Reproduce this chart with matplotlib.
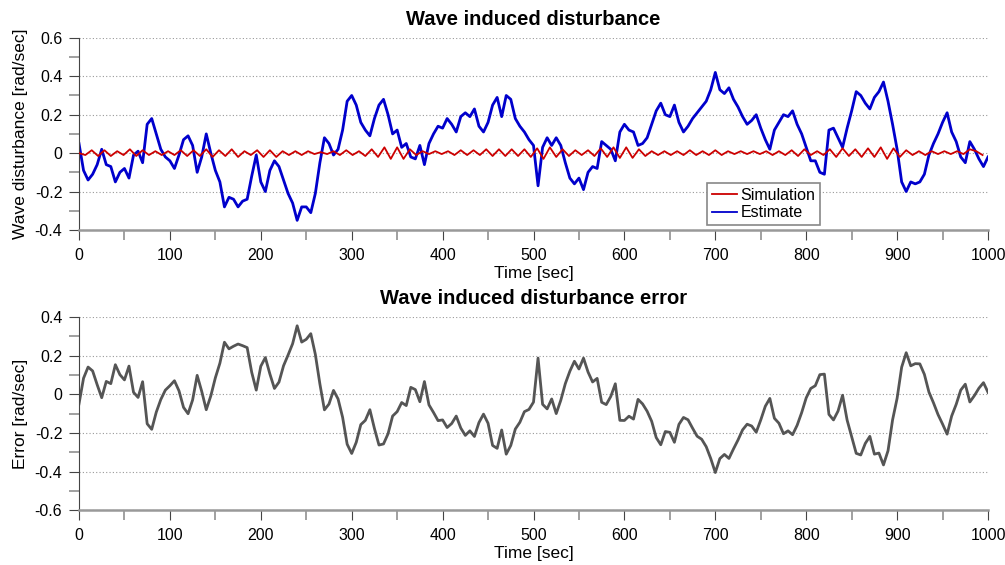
import matplotlib
matplotlib.use("Agg")
import matplotlib.pyplot as plt
import numpy as np
from matplotlib.ticker import MultipleLocator

plt.rcParams["font.family"] = ["Liberation Sans", "DejaVu Sans"]

# Estimate of the wave induced disturbance, read every 5 sec
est_t = np.arange(0, 1001, 5)
estimate = [
    0.05, -0.09, -0.14, -0.11, -0.06, 0.02, -0.06, -0.07, -0.15, -0.10,
    -0.08, -0.13, -0.01, 0.01, -0.05, 0.15, 0.18, 0.10, 0.02, -0.02,
    -0.04, -0.08, -0.01, 0.07, 0.09, 0.04, -0.10, -0.02, 0.10, 0.00,
    -0.09, -0.15, -0.28, -0.23, -0.24, -0.28, -0.25, -0.24, -0.12, -0.01,
    -0.15, -0.20, -0.09, -0.04, -0.07, -0.14, -0.21, -0.26, -0.35, -0.28,
    -0.28, -0.31, -0.21, -0.05, 0.08, 0.05, -0.01, 0.02, 0.12, 0.27,
    0.30, 0.25, 0.16, 0.12, 0.09, 0.18, 0.25, 0.28, 0.20, 0.10,
    0.12, 0.03, 0.05, -0.02, -0.03, 0.04, -0.06, 0.05, 0.10, 0.14,
    0.13, 0.18, 0.15, 0.11, 0.19, 0.21, 0.19, 0.23, 0.14, 0.11,
    0.16, 0.25, 0.29, 0.19, 0.30, 0.28, 0.18, 0.14, 0.11, 0.07,
    0.04, -0.17, 0.03, 0.08, 0.04, 0.08, 0.04, -0.05, -0.13, -0.16,
    -0.13, -0.19, -0.10, -0.07, -0.08, 0.06, 0.04, 0.02, -0.04, 0.11,
    0.15, 0.12, 0.11, 0.04, 0.05, 0.08, 0.15, 0.22, 0.26, 0.20,
    0.19, 0.25, 0.16, 0.11, 0.14, 0.18, 0.21, 0.24, 0.27, 0.33,
    0.42, 0.33, 0.31, 0.34, 0.28, 0.24, 0.19, 0.15, 0.17, 0.20,
    0.13, 0.07, 0.02, 0.12, 0.16, 0.20, 0.19, 0.22, 0.15, 0.10,
    0.03, -0.04, -0.04, -0.10, -0.11, 0.12, 0.13, 0.08, 0.03, 0.13,
    0.22, 0.32, 0.30, 0.26, 0.23, 0.29, 0.32, 0.37, 0.27, 0.15,
    0.02, -0.15, -0.20, -0.15, -0.16, -0.15, -0.11, -0.01, 0.05, 0.10,
    0.16, 0.21, 0.11, 0.06, -0.02, -0.05, 0.06, 0.02, -0.03, -0.07,
    -0.02,
]

# Simulated disturbance, peaks and troughs every 7 sec
sim_t = np.arange(0, 1000, 7)
simulation = [
    0.00, -0.01, 0.015, -0.015, 0.015, -0.015, 0.01, -0.01, 0.02, -0.015,
    0.015, -0.01, 0.01, -0.01, 0.01, -0.01, 0.015, -0.015, 0.015, -0.015,
    0.02, -0.02, 0.015, -0.015, 0.02, -0.02, 0.01, -0.01, 0.015, -0.02,
    0.015, -0.02, 0.01, -0.01, 0.01, -0.01, 0.01, -0.005, 0.005, -0.005,
    0.01, -0.01, 0.015, -0.01, 0.01, -0.015, 0.02, -0.02, 0.03, -0.03,
    0.03, -0.03, 0.02, -0.01, 0.01, -0.005, 0.01, -0.005, 0.01, -0.01,
    0.015, -0.01, 0.015, -0.01, 0.02, -0.015, 0.02, -0.015, 0.02, -0.015,
    0.02, -0.02, 0.025, -0.03, 0.03, -0.02, 0.02, -0.015, 0.015, -0.01,
    0.015, -0.015, 0.025, -0.02, 0.03, -0.025, 0.03, -0.025, 0.02, -0.015,
    0.01, -0.01, 0.01, -0.01, 0.01, -0.01, 0.015, -0.01, 0.01, -0.01,
    0.015, -0.01, 0.01, -0.005, 0.01, -0.005, 0.01, -0.005, 0.01, -0.01,
    0.01, -0.01, 0.015, -0.015, 0.02, -0.01, 0.01, -0.01, 0.02, -0.02,
    0.025, -0.015, 0.02, -0.02, 0.025, -0.02, 0.03, -0.03, 0.025, -0.02,
    0.015, -0.01, 0.01, -0.01, 0.01, -0.005, 0.01, -0.005, 0.01, -0.005,
    0.02, 0.01, -0.01,
]

x_ticks = [0, 100, 200, 300, 400, 500, 600, 700, 800, 900, 1000]


def style_axes(ax, ylim):
    ax.set_xlim(0, 1000)
    ax.set_ylim(*ylim)
    ax.spines["top"].set_visible(False)
    ax.spines["right"].set_visible(False)
    ax.spines["left"].set_color("#444444")
    ax.spines["bottom"].set_color("#999999")
    ax.spines["bottom"].set_linewidth(1.8)
    ax.set_xticks(x_ticks)
    ax.xaxis.set_minor_locator(MultipleLocator(50))
    ax.yaxis.set_major_locator(MultipleLocator(0.2))
    ax.yaxis.set_minor_locator(MultipleLocator(0.1))
    ax.tick_params(which="major", length=7, color="#444444", labelsize=11.5, direction="out")
    ax.tick_params(which="minor", length=7, color="#999999", width=1.3, direction="out")
    ax.tick_params(axis="x", which="major", pad=6)
    ax.tick_params(axis="y", which="major", pad=5)
    ax.yaxis.set_major_formatter(plt.FuncFormatter(lambda v, p: "0" if abs(v) < 1e-9 else f"{v:.1f}"))
    ax.grid(axis="y", which="major", linestyle=(0, (1, 2)), color="#999999", linewidth=0.8)
    ax.set_xlabel("Time [sec]", fontsize=12.5, labelpad=2)


def main() -> None:
    est = np.array(estimate)
    sim = np.array(simulation)
    # error between simulated and estimated disturbance
    error = np.interp(est_t, sim_t, sim) - est

    fig = plt.figure(figsize=(10.05, 5.65), dpi=100)
    ax1 = fig.add_axes([0.0786, 0.593, 0.9045, 0.340])
    ax2 = fig.add_axes([0.0786, 0.097, 0.9045, 0.342])

    ax1.plot(sim_t, sim, color="#cc0000", linewidth=1.3, label="Simulation", zorder=3)
    ax1.plot(est_t, est, color="#0000cc", linewidth=2.0, label="Estimate", zorder=2)
    style_axes(ax1, (-0.4, 0.6))
    ax1.set_ylabel("Wave disturbance [rad/sec]", fontsize=12.5, labelpad=5)
    ax1.set_title("Wave induced disturbance", fontsize=14.5, fontweight="bold", pad=9)
    leg = ax1.legend(loc="lower left", bbox_to_anchor=(0.691, 0.026), borderaxespad=0,
                     fontsize=11.5, fancybox=False, framealpha=1, edgecolor="#888888",
                     handlelength=1.6, borderpad=0.3, labelspacing=0.15, handletextpad=0.2)
    leg.get_frame().set_linewidth(1.2)
    for line in leg.get_lines():
        line.set_linewidth(1.3)

    ax2.plot(est_t, error, color="#555555", linewidth=2.0)
    style_axes(ax2, (-0.6, 0.4))
    ax2.set_ylabel("Error [rad/sec]", fontsize=12.5, labelpad=5)
    ax2.set_title("Wave induced disturbance error", fontsize=14.5, fontweight="bold", pad=9)

    fig.savefig("out.png", dpi=100)


if __name__ == "__main__":
    main()
